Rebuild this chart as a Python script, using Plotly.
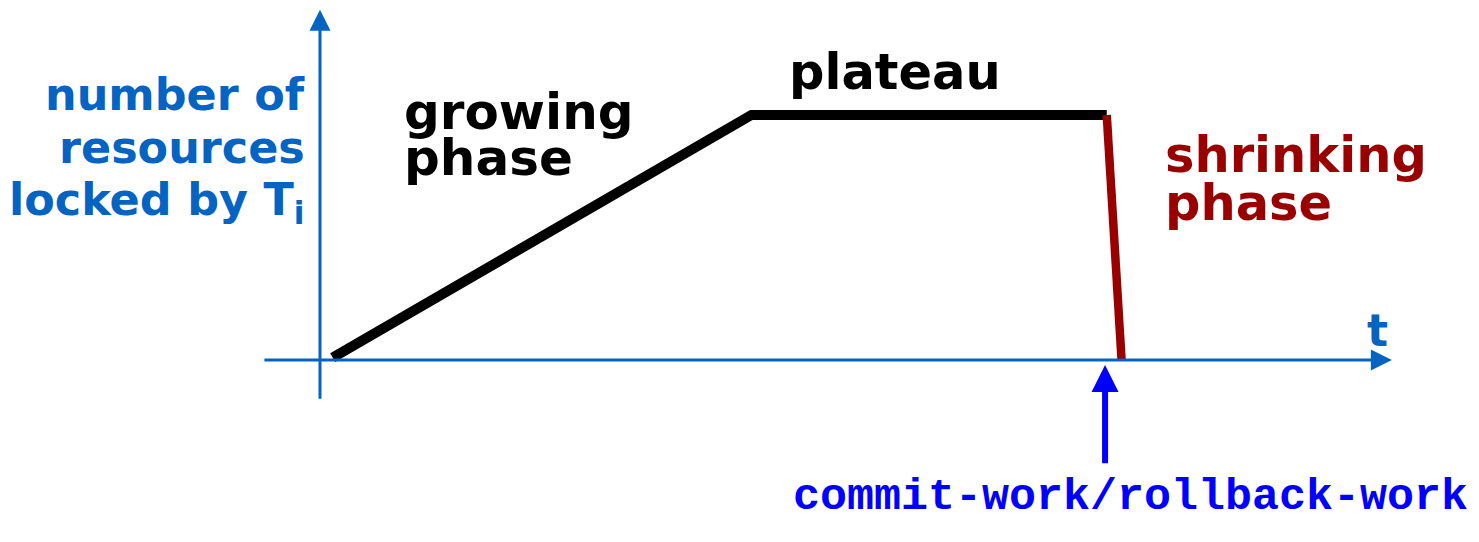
import plotly.graph_objects as go

# Data (abstract units: time vs. number of locks)
grow_t = [0.3, 10.2, 18.6]
grow_n = [0.05, 5.0, 5.0]
shrink_t = [18.6, 18.95]
shrink_n = [5.0, 0.0]
commit_t = 18.56

AX = "#0563C1"
RED = "#990000"
BLUE = "#0000FF"

fig = go.Figure()
fig.add_trace(go.Scatter(x=grow_t, y=grow_n, mode="lines",
                         line=dict(color="black", width=10), hoverinfo="skip"))
fig.add_trace(go.Scatter(x=shrink_t, y=shrink_n, mode="lines",
                         line=dict(color=RED, width=8.5), hoverinfo="skip"))

ann = []
# axes arrows
ann.append(dict(x=25.34, y=0, ax=-1.35, ay=0, xref="x", yref="y", axref="x", ayref="y",
                showarrow=True, arrowhead=2, arrowsize=1.4, arrowwidth=3, arrowcolor=AX, text=""))
ann.append(dict(x=0, y=7.15, ax=0, ay=-0.82, xref="x", yref="y", axref="x", ayref="y",
                showarrow=True, arrowhead=2, arrowsize=1.4, arrowwidth=3, arrowcolor=AX, text=""))
# commit arrow
ann.append(dict(x=commit_t, y=-0.1, ax=commit_t, ay=-2.14, xref="x", yref="y", axref="x", ayref="y",
                showarrow=True, arrowhead=2, arrowsize=0.9, arrowwidth=6, arrowcolor=BLUE, text=""))

def txt(s, x, y, color, size, xanchor="left", family="DejaVu Sans"):
    ann.append(dict(text=s, x=x, y=y, xref="x", yref="y", xanchor=xanchor, yanchor="middle",
                    showarrow=False, font=dict(family=family, size=size, color=color)))

txt("<b>number of</b>", -0.3, 5.41, AX, 44.5, "right")
txt("<b>resources</b>", -0.3, 4.33, AX, 44.5, "right")
txt("<b>locked by T<sub>i</sub></b>", -0.3, 3.22, AX, 44.5, "right")
txt("<b>growing</b>", 1.95, 5.06, "black", 50)
txt("<b>phase</b>", 1.95, 4.12, "black", 50)
txt("<b>plateau</b>", 11.05, 5.88, "black", 49.5)
txt("<b>shrinking</b>", 19.92, 4.18, RED, 49.5)
txt("<b>phase</b>", 19.92, 3.2, RED, 49.5)
txt("<b>t</b>", 25.0, 0.61, AX, 44, "center")
txt("<b>commit-work/rollback-work</b>", 19.15, -2.8, BLUE, 45, "center", "Liberation Mono")

fig.update_layout(
    width=1479, height=542, margin=dict(l=0, r=0, t=0, b=0),
    plot_bgcolor="white", paper_bgcolor="white", showlegend=False,
    xaxis=dict(range=[-7.565, 27.40], visible=False, fixedrange=True),
    yaxis=dict(range=[-3.714, 7.347], visible=False, fixedrange=True),
    annotations=ann,
)
fig.write_html("out.html", config={"displayModeBar": False},
               post_script="document.body.style.margin='0';document.body.style.overflow='hidden';")
